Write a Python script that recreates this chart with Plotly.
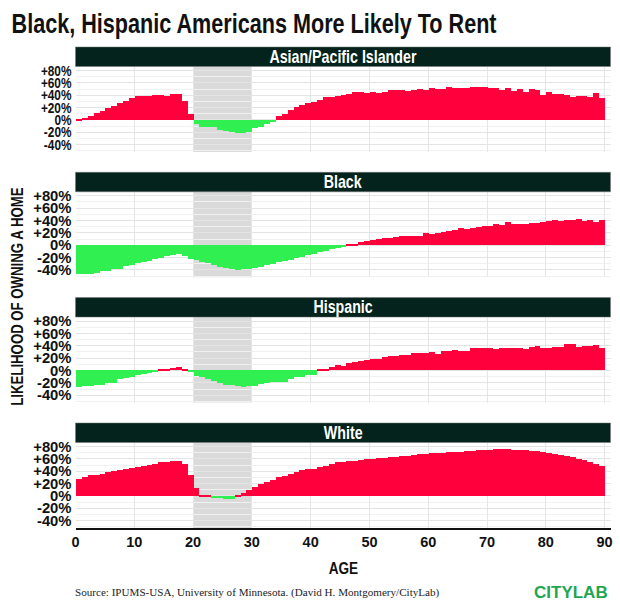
import plotly.graph_objects as go

ages = list(range(90))
panels = ["Asian/Pacific Islander", "Black", "Hispanic", "White"]
asian = [3,4,6.5,12,16,20,24,28,32,36,39,40,40,41,41,40,42,43,32,10,
         -6,-11,-10,-10,-16,-17,-18,-20,-20,-18,-13,-10,-6,-2,7,10,17,21,25,28,
         30,33,38,38,39.5,41.6,43,46,46.5,45,45.5,44,46,48.6,49,48.6,47.5,50,51,50,
         52,51,51,53.5,52,53,53,53.5,54,54,53,53,50,53,47,51,46,51,48.6,40.5,
         46,42,43,40.5,38,40,39,38,45,37]
black = [-47,-46,-46.5,-44,-42,-41.6,-38,-38,-33,-32.5,-29,-27,-26,-22,-20,-17,-15,-14,-17,-22,
         -23,-27.5,-29,-32,-35,-36,-38,-40.5,-39,-38,-36,-34.6,-31,-30,-27.5,-25,-23,-21,-19.5,-16,
         -13.5,-11,-8.6,-6.5,-4,-2,1,3,6,7,9,10,12,12.4,13.5,14.6,15.7,15.7,15,20.5,
         19,20,21,24,25.4,28.6,26.5,29,30,31,32,35,33,38,34,34,34.6,36,37,38,
         39,40.5,40,41.6,41,43,40,41.6,38,41]
hispanic = [-26.5,-26,-25,-24,-23,-20,-20,-14.6,-13,-10,-7.5,-6.5,-5,-3,1.6,2.7,4,5,1.6,-3,
            -9,-11,-14,-17,-20,-23,-24,-26,-26.5,-26,-26,-22,-21,-18.4,-19.5,-18.4,-14,-11,-10,-7.5,
            -8,1,1,5,8.6,6.5,12,13,15.7,17,18,18.4,22,23,23.5,25.4,25.4,27.5,27.5,29,
            30,27,31,31,33,32,32,37,36,36,37,35,36,37,35.6,37,34.6,38,39.5,36,
            37,38,38,42,42,38,39,39.5,40.5,36]
white = [27.5,32,34,35,37,39,40.5,42,44,46,48,50,51,53,55,56,57,58,53,34,
         13,3,2,-1,-3,-5,-3.5,1,5,10,16,20,24,27,31,33,37,39.5,42,44,
         45,48,50,52,55,56,57,58,59,60,60.5,62,63,64,64.5,65,66,67,68,69,
         70,70.5,71,71.5,72,72.5,73,73.5,75,75.5,75.5,76,76,76.5,75.5,75,74.5,74,73,71.5,
         70.5,69,67.5,66,63.5,61,58.5,56,53,49]
series = [asian, black, hispanic, white]
x_ticks = list(range(0, 100, 10))
y_ticks = [-40, -20, 0, 20, 40, 60, 80]
y_labels = ["-40%", "-20%", "0%", "+20%", "+40%", "+60%", "+80%"]

W, H = 620, 611
RED, GREEN, DARK = "#ff003c", "#2ff050", "#03231c"
COND = "Liberation Sans"
strip_tops = [47, 172.3, 297.6, 423]
plot_h = 85.5
strip_h = 19.5
x_dom = [75.5 / W, 610.5 / W]

fig = go.Figure()
shapes, annos = [], []
for i, (name, vals, top) in enumerate(zip(panels, series, strip_tops)):
    n = "" if i == 0 else str(i + 1)
    y0 = top + strip_h
    y1 = y0 + plot_h
    fig.add_trace(go.Bar(x=ages, y=vals, width=1, offset=0,
                         marker=dict(color=[RED if v >= 0 else GREEN for v in vals], line=dict(width=0)),
                         showlegend=False, xaxis="x" + n, yaxis="y" + n))
    last = i == 3
    fig.update_layout({
        "xaxis" + n: dict(domain=x_dom, range=[0, 91], anchor="y" + n, tickvals=x_ticks,
                          showticklabels=last, showgrid=True, gridcolor="#e6e6e6", gridwidth=1,
                          zeroline=False, ticks="", showline=last, linecolor="#111111", linewidth=2,
                          tickfont=dict(family=COND, size=14.5, color="#111111", weight="bold")),
        "yaxis" + n: dict(domain=[1 - y1 / H, 1 - y0 / H], range=[-52, 86.5], anchor="x" + n,
                          tickvals=y_ticks, ticktext=y_labels, showgrid=True, gridcolor="#e4e4e4",
                          gridwidth=1, zeroline=False, ticks="", ticklabelstandoff=3,
                          minor=dict(tick0=10, dtick=20, showgrid=True, gridcolor="#f1f1f1", gridwidth=1),
                          tickfont=dict(family=COND, size=14.8, color="#111111", weight="bold")),
    })
    shapes.append(dict(type="rect", xref="x" + n, yref="y" + n + " domain", x0=20, x1=30, y0=0, y1=1,
                       fillcolor="rgba(120,120,120,0.27)", line=dict(width=0), layer="below"))
    shapes.append(dict(type="rect", xref="paper", yref="paper", x0=x_dom[0], x1=x_dom[1],
                       y0=1 - (top + strip_h) / H, y1=1 - top / H, fillcolor=DARK,
                       line=dict(color="#777777", width=0.5)))
    annos.append(dict(text=name, xref="paper", yref="paper", x=(x_dom[0] + x_dom[1]) / 2,
                      y=1 - (top + strip_h / 2) / H, showarrow=False, xanchor="center", yanchor="middle",
                      font=dict(family=COND, size=17.8, color="white", weight="bold")))

annos += [
    dict(text="Black, Hispanic Americans More Likely To Rent", xref="paper", yref="paper",
         x=253.5 / W, y=1 - 24 / H, showarrow=False, xanchor="center", yanchor="middle",
         font=dict(family=COND, size=27, color="#111111", weight="bold")),
    dict(text="LIKELIHOOD OF OWNING A HOME", xref="paper", yref="paper", x=17 / W, y=1 - 297 / H,
         showarrow=False, textangle=-90, xanchor="center", yanchor="middle",
         font=dict(family=COND, size=16.5, color="#111111", weight="bold")),
    dict(text="AGE", xref="paper", yref="paper", x=343 / W, y=1 - 568 / H, showarrow=False,
         xanchor="center", yanchor="middle", font=dict(family=COND, size=17, color="#111111", weight="bold")),
    dict(text="Source: IPUMS-USA, University of Minnesota. (David H. Montgomery/CityLab)", xref="paper",
         yref="paper", x=73 / W, y=1 - 592.5 / H, showarrow=False, xanchor="left", yanchor="middle",
         font=dict(family="Liberation Serif", size=11.1, color="#222222")),
    dict(text="CITYLAB", xref="paper", yref="paper", x=570.5 / W, y=1 - 592 / H, showarrow=False,
         xanchor="center", yanchor="middle", font=dict(family=COND, size=17, color="#1fa650", weight="bold")),
]
fig.update_layout(width=W, height=H, margin=dict(l=0, r=0, t=0, b=0, autoexpand=False), bargap=0,
                  barmode="overlay", paper_bgcolor="white", plot_bgcolor="white",
                  shapes=shapes, annotations=annos)

squeeze = """
document.body.style.margin = '0';
document.querySelectorAll('.xtick text, .ytick text, .annotation-text').forEach(function (t) {
  var s = t.textContent;
  if (s.indexOf('Source') === 0 || s === 'CITYLAB') return;
  t.setAttribute('textLength', t.getComputedTextLength() * 0.8);
  t.setAttribute('lengthAdjust', 'spacingAndGlyphs');
});
"""
fig.write_html("out.html", post_script=squeeze, config={"displayModeBar": False})
